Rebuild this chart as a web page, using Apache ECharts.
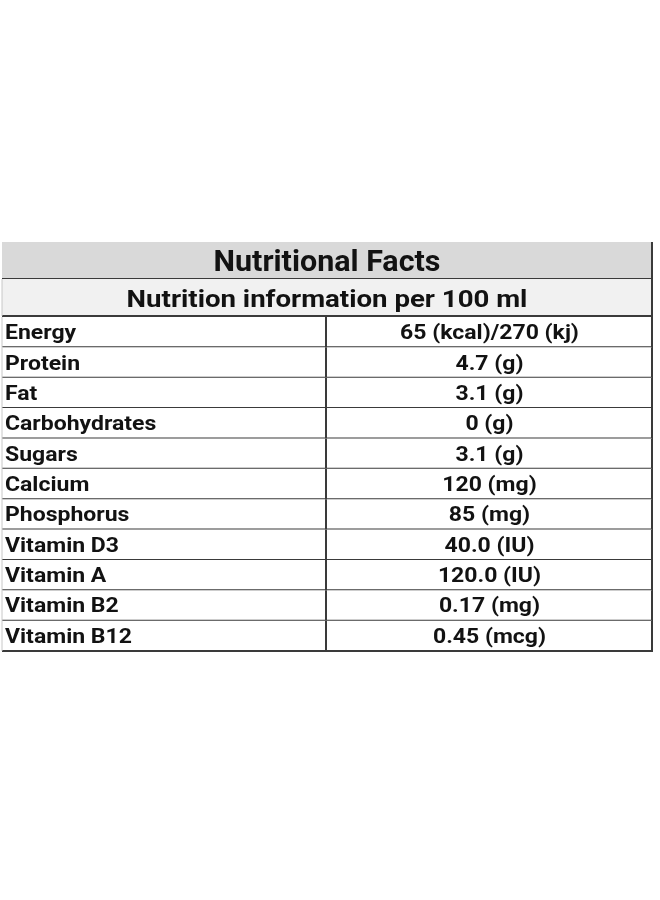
<!DOCTYPE html>
<html>
<head>
<meta charset="utf-8">
<script src="https://cdn.jsdelivr.net/npm/echarts@6/dist/echarts.min.js"></script>
<style>html,body{margin:0;padding:0;background:#fff}#c{width:660px;height:900px}</style>
</head>
<body>
<div id="c"></div>
<script>
const tableTitle = 'Nutritional Facts';
const tableSubtitle = 'Nutrition information per 100 ml';
const headerRows = [tableTitle, tableSubtitle];
const columns = ['Nutrient', 'Amount'];
const nutrients = ['Energy','Protein','Fat','Carbohydrates','Sugars','Calcium','Phosphorus','Vitamin D3','Vitamin A','Vitamin B2','Vitamin B12'];
const amounts = ['65 (kcal)/270 (kj)','4.7 (g)','3.1 (g)','0 (g)','3.1 (g)','120 (mg)','85 (mg)','40.0 (IU)','120.0 (IU)','0.17 (mg)','0.45 (mcg)'];

const FONT = 'Roboto, "Noto Sans", sans-serif';
const TXT = '#121212';
const LINE = '#3a3a3a';

function hLine(x1, x2, y, color, w) {
  return {type:'line', shape:{x1:x1, y1:y, x2:x2, y2:y}, style:{stroke:color, lineWidth:w}};
}
function vLine(x, y1, y2, color, w) {
  return {type:'line', shape:{x1:x, y1:y1, x2:x, y2:y2}, style:{stroke:color, lineWidth:w}};
}

function renderHeader(params, api) {
  const i = api.value(1);
  const cs = params.coordSys;
  const c = api.coord([0, i]);
  const h = api.size([0, 1])[1];
  const top = c[1] - h / 2, bot = c[1] + h / 2;
  const fills = ['#d9d9d9', '#f1f1f1'];
  const sizes = [29, 24];
  const scales = [1.05, 1.15];
  const children = [
    {type:'rect', shape:{x:cs.x, y:top, width:cs.width, height:h}, style:{fill:fills[i]}},
    {type:'text', x: cs.x + cs.width / 2, y: c[1] + 3, scaleX: scales[i],
      style:{text: api.value(2), font: 'bold ' + sizes[i] + 'px ' + FONT, fill: TXT, align:'center', verticalAlign:'middle'}},
    hLine(cs.x, cs.x + cs.width + 1, bot, LINE, 2),
    vLine(cs.x + cs.width, top, bot, LINE, 2)
  ];
  if (i === 1) children.push(vLine(cs.x, top, bot, '#c8c8c8', 1));
  return {type:'group', children: children};
}

function renderRow(params, api) {
  const i = api.value(1);
  const cs = params.coordSys;
  const c0 = api.coord([0, i]);
  const c1 = api.coord([1, i]);
  const w = api.size([1, 0])[0];
  const h = api.size([0, 1])[1];
  const top = c0[1] - h / 2, bot = c0[1] + h / 2;
  const font = 'bold 20px ' + FONT;
  return {type:'group', children:[
    {type:'rect', shape:{x:cs.x, y:top, width:cs.width, height:h}, style:{fill:'#ffffff'}},
    {type:'text', x: cs.x + 3, y: c0[1] + 2, scaleX: 1.15,
      style:{text: api.value(2), font: font, fill: TXT, align:'left', verticalAlign:'middle'}},
    {type:'text', x: c1[0], y: c1[1] + 2, scaleX: 1.15,
      style:{text: api.value(3), font: font, fill: TXT, align:'center', verticalAlign:'middle'}},
    hLine(cs.x, cs.x + cs.width + 1, bot, LINE, 2),
    vLine(cs.x + cs.width, top, bot + 1, LINE, 2),
    vLine(c0[0] + w / 2 - 1, top, bot, LINE, 2),
    vLine(cs.x, top, bot, '#c8c8c8', 1)
  ]};
}

const chart = echarts.init(document.getElementById('c'));
chart.setOption({
  backgroundColor: '#ffffff',
  animation: false,
  grid: [
    {left: 2, right: 8, top: 242, height: 74},
    {left: 2, right: 8, top: 317, height: 334}
  ],
  xAxis: [
    {type:'category', data: columns, gridIndex: 0, show: false},
    {type:'category', data: columns, gridIndex: 1, show: false}
  ],
  yAxis: [
    {type:'category', data: headerRows, gridIndex: 0, inverse: true, show: false},
    {type:'category', data: nutrients, gridIndex: 1, inverse: true, show: false}
  ],
  series: [
    {type:'custom', xAxisIndex:0, yAxisIndex:0, renderItem: renderHeader,
      data: headerRows.map((t, i) => [0, i, t]), encode:{x:0, y:1}, silent:true, clip:false},
    {type:'custom', xAxisIndex:1, yAxisIndex:1, renderItem: renderRow,
      data: nutrients.map((n, i) => [0, i, n, amounts[i]]), encode:{x:0, y:1}, silent:true, clip:false}
  ]
});
</script>
</body>
</html>
